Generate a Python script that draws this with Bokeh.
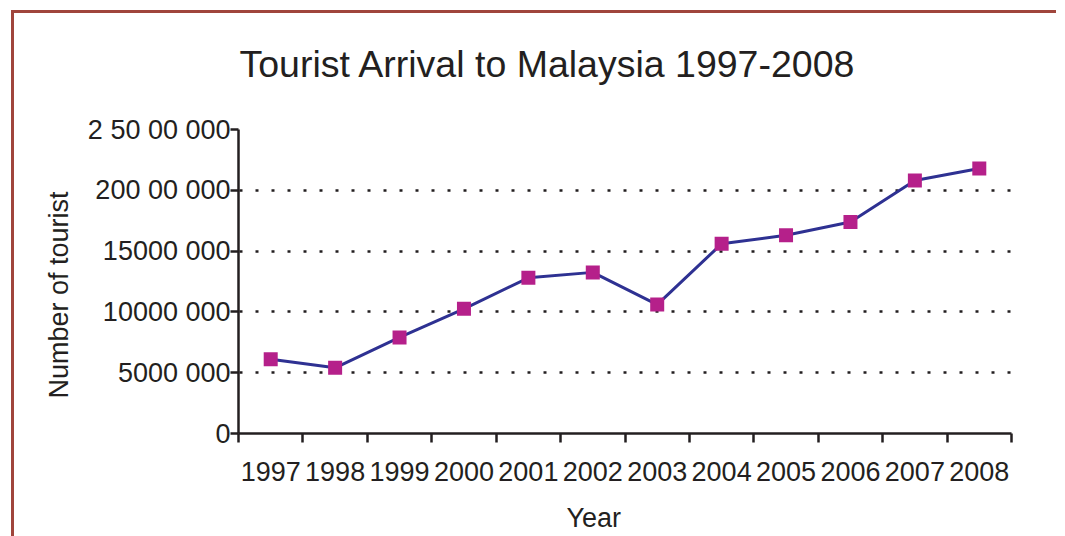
from bokeh.plotting import figure
from bokeh.models import Range1d, FixedTicker, Title
from bokeh.embed import file_html
from bokeh.resources import INLINE

# ---- data ----
years = [1997, 1998, 1999, 2000, 2001, 2002, 2003, 2004, 2005, 2006, 2007, 2008]
tourists = [6100000, 5400000, 7900000, 10250000, 12800000, 13250000,
            10600000, 15600000, 16300000, 17400000, 20800000, 21800000]
y_ticks = [0, 5000000, 10000000, 15000000, 20000000, 25000000]
y_tick_labels = ["0", "5000 000", "10000 000", "15000 000", "200 00 000", "2 50 00 000"]
x_tick_labels = [str(y) for y in years]

title_text = "Tourist Arrival to Malaysia 1997-2008"
x_title = "Year"
y_title = "Number of tourist"

FONT = "Liberation Sans"
TXT = "#231f20"
AX = "#231f20"

p = figure(width=1056, height=556, output_backend="svg", toolbar_location=None,
           x_range=Range1d(years[0] - 0.5, years[-1] + 0.5),
           y_range=Range1d(y_ticks[0], y_ticks[-1]),
           min_border_left=238, min_border_right=45, min_border_top=129, min_border_bottom=123,
           styles={"box-shadow": "inset 11px 10px 0 0 #ffffff, inset 14px 13px 0 0 #a0453c"})
p.background_fill_color = None
p.border_fill_color = None
p.outline_line_color = None

# title
p.title.text = title_text
p.title.text_font = FONT
p.title.text_font_size = "37.5px"
p.title.text_font_style = "normal"
p.title.text_color = TXT
p.title.align = "left"
p.title.offset = 1
p.title.vertical_align = "top"
p.title.standoff = 85

# x axis
xa = p.xaxis[0]
xa.ticker = FixedTicker(ticks=years, minor_ticks=[y - 0.5 for y in years] + [years[-1] + 0.5])
xa.major_label_overrides = {y: lab for y, lab in zip(years, x_tick_labels)}
xa.major_tick_line_color = None
xa.major_tick_out = 0
xa.major_tick_in = 0
xa.minor_tick_line_color = AX
xa.minor_tick_line_width = 2.5
xa.minor_tick_out = 9
xa.minor_tick_in = 0
xa.major_label_standoff = 19
xa.major_label_text_font = FONT
xa.major_label_text_font_size = "27px"
xa.major_label_text_color = TXT
xa.axis_line_color = AX
xa.axis_line_width = 2.5

# y axis
ya = p.yaxis[0]
ya.ticker = FixedTicker(ticks=y_ticks, minor_ticks=[])
ya.major_label_overrides = {t: lab for t, lab in zip(y_ticks, y_tick_labels)}
ya.major_tick_line_color = AX
ya.major_tick_line_width = 2.5
ya.major_tick_out = 8
ya.major_tick_in = 0
ya.minor_tick_line_color = None
ya.major_label_standoff = 0
ya.major_label_text_font = FONT
ya.major_label_text_font_size = "27px"
ya.major_label_text_color = TXT
ya.axis_line_color = AX
ya.axis_line_width = 2.5

# grid
p.xgrid.grid_line_color = None
p.ygrid.ticker = FixedTicker(ticks=y_ticks[1:-1])
p.ygrid.grid_line_color = AX
p.ygrid.grid_line_width = 2.5
p.ygrid.grid_line_dash = "3 13"
p.ygrid.grid_line_dash_offset = 15

# axis titles
p.add_layout(Title(text=y_title, align="left", offset=35, text_font=FONT,
                   text_font_size="27px", text_font_style="normal", text_color=TXT,
                   standoff=22), "left")
p.add_layout(Title(text=x_title, align="left", offset=328, text_font=FONT,
                   text_font_size="27px", text_font_style="normal", text_color=TXT,
                   vertical_align="top", standoff=39), "below")

# data
p.line(years, tourists, line_color="#2e3192", line_width=3)
p.scatter(years, tourists, marker="square", size=14, fill_color="#b5208a", line_color=None)

open("out.html", "w").write(file_html(p, INLINE))
